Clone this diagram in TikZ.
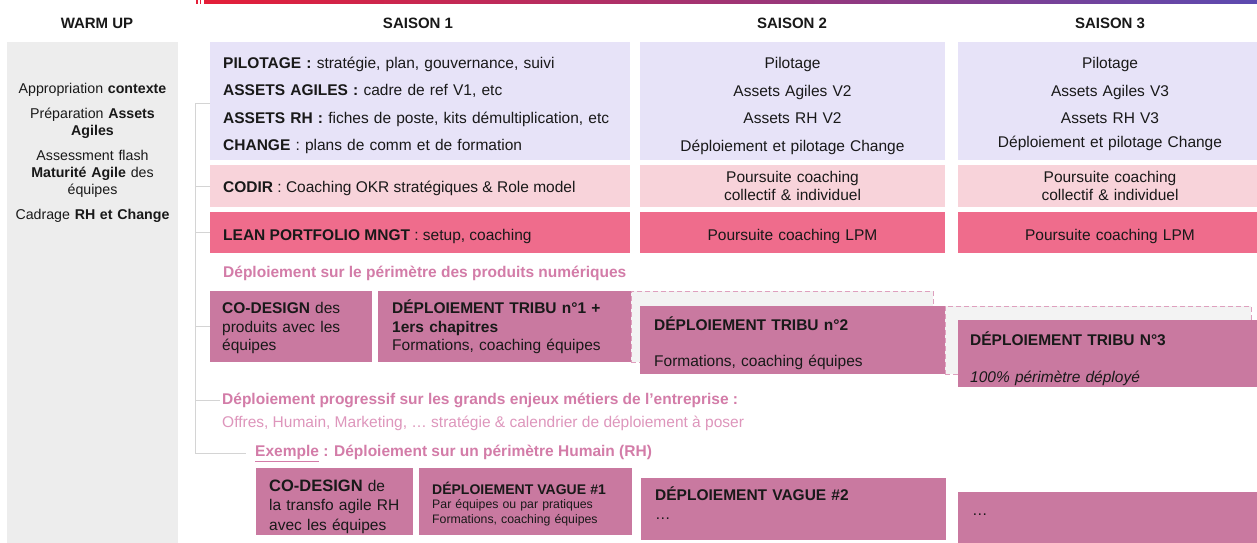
\documentclass[tikz,border=0pt]{standalone}
\usepackage{fontspec}
\setmainfont{Liberation Sans}
\definecolor{lavfill}{RGB}{231,227,248}
\definecolor{codirfill}{RGB}{248,211,218}
\definecolor{lpmfill}{RGB}{239,108,140}
\definecolor{tribufill}{RGB}{201,121,160}
\definecolor{warmfill}{RGB}{237,237,237}
\definecolor{ghostfill}{RGB}{243,243,243}
\definecolor{ghostline}{RGB}{222,160,190}
\definecolor{deploytext}{RGB}{211,124,168}
\definecolor{offrestext}{RGB}{222,150,188}
\definecolor{spinegray}{RGB}{212,212,212}
\definecolor{barred}{RGB}{228,30,56}
\definecolor{barviolet}{RGB}{92,74,176}
\definecolor{inktext}{RGB}{25,25,25}
\tikzset{every node/.append style={text=inktext}}

\begin{document}
\begin{tikzpicture}[x=1pt,y=-1pt,
    box/.style={anchor=north west,inner sep=0pt,outer sep=0pt},
    header/.style={font=\fontsize{15}{18}\selectfont\bfseries,inner sep=0pt},
    txt/.style={inner sep=0pt,font=\fontsize{15.5}{18.5}\selectfont},
    lefttxt/.style={txt,anchor=base west,align=left},
    midtxt/.style={txt,anchor=base,align=center},
    ghost/.style={box,fill=ghostfill,draw=ghostline,dash pattern=on 5pt off 3pt,line width=0.8pt},
    deploy/.style={txt,anchor=base west,text=deploytext,font=\fontsize{15.5}{18.5}\selectfont\bfseries},
    spine/.style={draw=spinegray,line width=0.9pt},
  ]
  \useasboundingbox (0,0) rectangle (1257,542);
  \clip (0,0) rectangle (1257,542);
  \fill[white] (0,0) rectangle (1257,542);
  \shade[left color=barred,right color=barviolet] (204,0) rectangle (1257,3.5);
  \fill[barred] (196,0) rectangle (197.5,3.5);
  \fill[barred] (199.5,0) rectangle (201,3.5);

  % column titles
  \node[header] (warmup) at (97,23) {WARM UP};
  \node[header] (saison1) at (418,23) {SAISON 1};
  \node[header] (saison2) at (792,23) {SAISON 2};
  \node[header] (saison3) at (1110,23) {SAISON 3};

  \node[box,fill=warmfill,minimum width=171pt,minimum height=510pt] (warmbox) at (7,42) {};
  \node[midtxt,text width=171pt,font=\fontsize{14.2}{17}\selectfont] (warmtext) at (92.5,93)
    {Appropriation \textbf{contexte}\\[8pt]
     Préparation \textbf{Assets}\\ \textbf{Agiles}\\[8pt]
     Assessment flash\\ \textbf{Maturité Agile} des\\ équipes\\[8pt]
     Cadrage \textbf{RH et Change}};

  % pilotage
  \node[box,fill=lavfill,minimum width=420pt,minimum height=118pt] (pilot1) at (210,42) {};
  \node[box,fill=lavfill,minimum width=305pt,minimum height=118pt] (pilot2) at (640,42) {};
  \node[box,fill=lavfill,minimum width=304pt,minimum height=118pt] (pilot3) at (958,42) {};
  \node[lefttxt,text width=400pt,font=\fontsize{15.5}{27.3}\selectfont] (pilot1txt) at (223,68.5)
    {\textbf{PILOTAGE :} stratégie, plan, gouvernance, suivi\\
     \textbf{ASSETS AGILES :} cadre de ref V1, etc\\
     \textbf{ASSETS RH :} fiches de poste, kits démultiplication, etc\\
     \textbf{CHANGE} : plans de comm et de formation};
  \node[midtxt,text width=290pt,font=\fontsize{15.5}{27.5}\selectfont] (pilot2txt) at (792.5,68.5)
    {Pilotage\\ Assets Agiles V2\\ Assets RH V2\\ Déploiement et pilotage Change};
  \node[midtxt,text width=290pt,font=\fontsize{15.5}{27.5}\selectfont] (pilot3txt) at (1110,68.5)
    {Pilotage\\ Assets Agiles V3\\ Assets RH V3\\[-4pt] Déploiement et pilotage Change};

  % codir
  \node[box,fill=codirfill,minimum width=420pt,minimum height=42pt] (codir1) at (210,165) {};
  \node[box,fill=codirfill,minimum width=305pt,minimum height=42pt] (codir2) at (640,165) {};
  \node[box,fill=codirfill,minimum width=304pt,minimum height=42pt] (codir3) at (958,165) {};
  \node[lefttxt] (codir1txt) at (223,192.5) {\textbf{CODIR} : Coaching OKR stratégiques \& Role model};
  \node[midtxt,text width=290pt,font=\fontsize{15.5}{18}\selectfont] (codir2txt) at (792.5,182.5)
    {Poursuite coaching\\ collectif \& individuel};
  \node[midtxt,text width=290pt,font=\fontsize{15.5}{18}\selectfont] (codir3txt) at (1110,182.5)
    {Poursuite coaching\\ collectif \& individuel};

  % lean portfolio
  \node[box,fill=lpmfill,minimum width=420pt,minimum height=41pt] (lpm1) at (210,212) {};
  \node[box,fill=lpmfill,minimum width=305pt,minimum height=41pt] (lpm2) at (640,212) {};
  \node[box,fill=lpmfill,minimum width=304pt,minimum height=41pt] (lpm3) at (958,212) {};
  \node[lefttxt] (lpm1txt) at (223,240) {\textbf{LEAN PORTFOLIO MNGT} : setup, coaching};
  \node[midtxt,text width=290pt] (lpm2txt) at (792.5,240) {Poursuite coaching LPM};
  \node[midtxt,text width=290pt] (lpm3txt) at (1110,240) {Poursuite coaching LPM};

  \node[deploy] (produits) at (223,277) {Déploiement sur le périmètre des produits numériques};

  % tribus
  \node[ghost,minimum width=302pt,minimum height=71pt] (ghost2) at (631,291) {};
  \node[ghost,minimum width=306pt,minimum height=68pt] (ghost3) at (945,306) {};
  \node[box,fill=tribufill,minimum width=162pt,minimum height=71pt] (codesign) at (210,291) {};
  \node[box,fill=tribufill,minimum width=253pt,minimum height=71pt] (tribu1) at (378,291) {};
  \node[box,fill=tribufill,minimum width=305pt,minimum height=68pt] (tribu2) at (640,306) {};
  \node[box,fill=tribufill,minimum width=304pt,minimum height=67pt] (tribu3) at (958,320) {};
  \node[lefttxt,text width=150pt] (codesigntxt) at (222,313.5)
    {\textbf{CO-DESIGN} des\\ produits avec les\\ équipes};
  \node[lefttxt,text width=235pt] (tribu1txt) at (392,313.5)
    {\textbf{DÉPLOIEMENT TRIBU n°1 +}\\ \textbf{1ers chapitres}\\ Formations, coaching équipes};
  \node[lefttxt,text width=280pt] (tribu2txt) at (654,330.5)
    {\textbf{DÉPLOIEMENT TRIBU n°2}\\[17pt] Formations, coaching équipes};
  \node[lefttxt,text width=280pt] (tribu3txt) at (970,345.5)
    {\textbf{DÉPLOIEMENT TRIBU N°3}\\[18.5pt] \textit{100\% périmètre déployé}};

  \node[deploy] (progressif) at (222,404) {Déploiement progressif sur les grands enjeux métiers de l’entreprise :};
  \node[deploy,text=offrestext,font=\fontsize{15.5}{18.5}\selectfont] (offres) at (222,427)
    {Offres, Humain, Marketing, … stratégie \& calendrier de déploiement à poser};
  \node[deploy] (exemple) at (255,456.5) {\underline{Exemple} : Déploiement sur un périmètre Humain (RH)};

  % vagues RH
  \node[box,fill=tribufill,minimum width=157pt,minimum height=67pt] (codesignrh) at (256,468) {};
  \node[box,fill=tribufill,minimum width=213pt,minimum height=67pt] (vague1) at (419,468) {};
  \node[box,fill=tribufill,minimum width=305pt,minimum height=62pt] (vague2) at (641,478) {};
  \node[box,fill=tribufill,minimum width=304pt,minimum height=60pt] (suite) at (958,492) {};
  \node[lefttxt,text width=145pt,font=\fontsize{15.5}{19.8}\selectfont] (codesignrhtxt) at (269,491)
    {{\fontsize{16.5}{19.8}\selectfont\textbf{CO-DESIGN}} de\\ la transfo agile RH\\ avec les équipes};
  \node[lefttxt,text width=195pt,font=\fontsize{12.3}{14.5}\selectfont] (vague1txt) at (432,494)
    {{\fontsize{14}{14.5}\selectfont\textbf{DÉPLOIEMENT VAGUE \#1}}\\ Par équipes ou par pratiques\\ Formations, coaching équipes};
  \node[lefttxt,text width=280pt] (vague2txt) at (655,500.5) {\textbf{DÉPLOIEMENT VAGUE \#2}\\ …};
  \node[lefttxt,text width=100pt] (suitetxt) at (972,515) {…};

  % bracket
  \coordinate (spinetop) at (195,103);
  \draw[spine] (spinetop) -- (spinetop -| pilot1.west);
  \foreach \n in {codir1,lpm1,codesign}
    \draw[spine] (spinetop |- \n.west) -- (\n.west);
  \draw[spine] (spinetop |- progressif.west) -- ([xshift=-2pt]progressif.west);
  \draw[spine] (spinetop) |- ([xshift=-9pt]exemple.west);
\end{tikzpicture}
\end{document}
